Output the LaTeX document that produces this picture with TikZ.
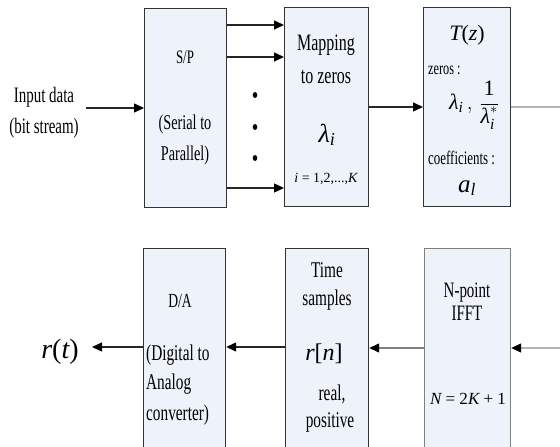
\documentclass[tikz,border=0pt]{standalone}
\usepackage{amsmath}
\usepackage{fontspec}
\setmainfont{Liberation Serif}[FakeStretch=0.68]
\newfontfamily\mf{Liberation Serif}
\usetikzlibrary{arrows.meta,calc}
\definecolor{boxfill}{HTML}{EEF2FA}
\definecolor{boxline}{HTML}{333333}
\definecolor{lgray}{HTML}{B4B4B4}
\definecolor{mgray}{HTML}{808080}
\newcommand\mi[1]{\text{\mf\itshape #1}}
\newcommand\fs[1]{\fontsize{#1}{#1}\selectfont}
\begin{document}
\begin{tikzpicture}[x=1pt,y=-1pt,
  blk/.style={draw=boxline, fill=boxfill, line width=1.2pt, inner sep=0pt, anchor=north west},
  lbl/.style={inner sep=0pt, anchor=base, text=black},
  arr/.style={line width=1.3pt, draw=black!85, -{Triangle[length=10pt,width=9pt,color=black]}}
]
\clip (0,0) rectangle (560,447);
\fill[white] (0,0) rectangle (560,447);

% boxes
\node[blk, minimum width=82pt, minimum height=199pt] (sp) at (144,8) {};
\node[blk, minimum width=84pt, minimum height=199pt] (map) at (284,7) {};
\node[blk, minimum width=87pt, minimum height=199pt] (tz) at (423,7) {};
\node[blk, minimum width=82pt, minimum height=210pt] (da) at (143,248) {};
\node[blk, minimum width=83pt, minimum height=210pt] (ts) at (285,248) {};
\node[blk, draw=mgray, minimum width=86pt, minimum height=210pt] (ifft) at (424,248) {};

% helper coordinates
\coordinate (in) at (86,108);
\coordinate (r1) at (0,25);
\coordinate (r2) at (0,57);
\coordinate (r3) at (0,188);
\coordinate (m) at (0,107);
\coordinate (out1) at (562,107);
\coordinate (in2) at (562,348);
\coordinate (b) at (0,348);
\coordinate (b2) at (0,347);
\coordinate (rt) at (92,347);

% connectors
\draw[arr] (in) -- (in -| sp.west);
\draw[arr] (sp.east |- r1) -- (map.west |- r1);
\draw[arr] (sp.east |- r2) -- (map.west |- r2);
\draw[arr] (sp.east |- r3) -- (map.west |- r3);
\draw[arr] (map.east |- m) -- (tz.west |- m);
\draw[line width=2pt, lgray] (tz.east |- m) -- (out1);
\draw[arr, draw=lgray] (in2) -- (ifft.east |- b);
\draw[arr, draw=mgray] (ifft.west |- b) -- (ts.east |- b);
\draw[arr] (ts.west |- b2) -- (da.east |- b2);
\draw[arr] (da.west |- b2) -- (rt);

% dots
\fill (255,95) ellipse (2.3pt and 3pt);
\fill (255,127) ellipse (2.3pt and 3pt);
\fill (255,158) ellipse (2.3pt and 3pt);

% texts top
\node[lbl, font=\fs{22}] (tin1) at (44,102) {Input data};
\node[lbl, font=\fs{22}] (tin2) at (44,133) {(bit stream)};
\node[lbl, font=\fs{19}] (tsp) at (185,63) {S/P};
\node[lbl, font=\fs{21}] (tser) at (185,129) {(Serial to};
\node[lbl, font=\fs{21}] (tpar) at (185,160) {Parallel)};
\node[lbl, font=\fs{23.5}] (tmap) at (326,50) {Mapping};
\node[lbl, font=\fs{23.5}] (tto) at (326,83) {to zeros};
\node[lbl, font=\fs{26}] (tlam) at (327,142) {$\mi{λ}_{\mi{i}}$};
\node[lbl, font=\fs{14}] (tidx) at (326,182) {\mf\itshape i\upshape\ = 1,2,...,\itshape K};
\node[lbl, font=\fs{22}] (ttz) at (467,40) {\mf\itshape T\upshape(\itshape z\upshape)};
\node[lbl, font=\fs{18}, anchor=base west] (tzer) at (428,74) {zeros :};
\node[inner sep=0pt, font=\fs{22}] (tfrac) at (474,105) {$\mi{λ}_{\mi{i}}\,,\,\dfrac{\text{\mf 1}}{\mi{λ}_{\mi{i}}^{*}}$};
\node[lbl, font=\fs{19}, anchor=base west] (tcoef) at (428,164) {coefficients :};
\node[lbl, font=\fs{25}] (tal) at (467,192) {$\mi{a}_{\mi{l}}$};

% texts bottom
\node[lbl, font=\fs{28}] (trt) at (60,358) {\mf\itshape r\upshape(\itshape t\upshape)};
\node[lbl, font=\fs{20}] (tda) at (180,307) {D/A};
\node[lbl, font=\fs{22.5}, anchor=base west] (tdig) at (146,360) {(Digital to};
\node[lbl, font=\fs{22.5}, anchor=base west] (tana) at (146,389) {Analog};
\node[lbl, font=\fs{22.5}, anchor=base west] (tconv) at (146,420) {converter)};
\node[lbl, font=\fs{22.5}] (ttime) at (327,277) {Time};
\node[lbl, font=\fs{22.5}] (tsamp) at (327,305) {samples};
\node[lbl, font=\fs{24}] (trn) at (324,360) {\mf\itshape r\upshape[\itshape n\upshape]};
\node[lbl, font=\fs{22.5}] (treal) at (332,400) {real,};
\node[lbl, font=\fs{22.5}] (tpos) at (330,427) {positive};
\node[lbl, font=\fs{22}] (tnp) at (467,297) {N-point};
\node[lbl, font=\fs{22}] (tifft) at (467,320) {IFFT};
\node[lbl, font=\fs{17}] (tN) at (468,404) {\mf\itshape N\upshape\ = 2\itshape K\upshape\ + 1};
\end{tikzpicture}
\end{document}
